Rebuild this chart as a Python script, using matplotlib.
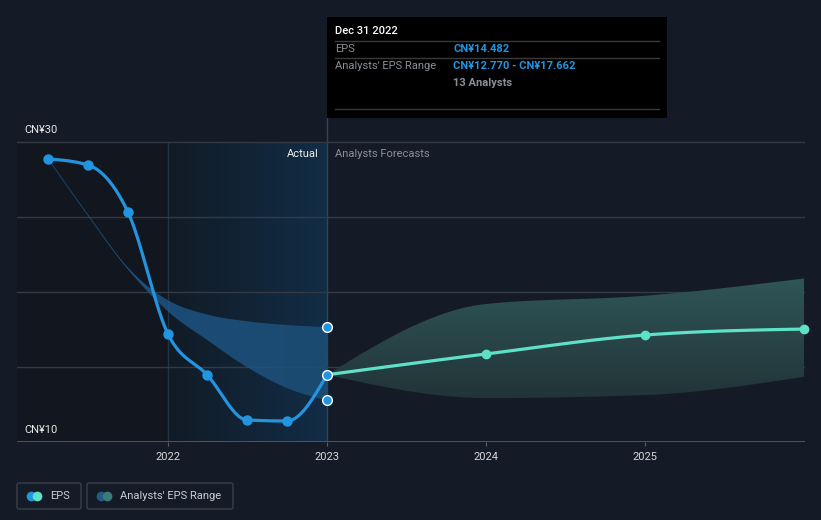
import numpy as np
import pandas as pd
import matplotlib
matplotlib.use("Agg")
import matplotlib.pyplot as plt
from matplotlib.patches import Rectangle, PathPatch, FancyBboxPatch
from matplotlib.lines import Line2D

plt.rcParams['font.family'] = ['Roboto', 'DejaVu Sans']

# ---------------- data ----------------
actual_dates = ["2021-03-31", "2021-06-30", "2021-09-30", "2021-12-31",
                "2022-03-31", "2022-06-30", "2022-09-30", "2022-12-31"]
actual_eps = [28.87, 28.47, 25.33, 17.20, 14.47, 11.47, 11.40, 14.482]
past_range_high = [28.87, 25.15, 21.62, 19.45, 18.5, 18.05, 17.8, 17.662]
past_range_low = [28.87, 25.12, 21.52, 18.7, 16.8, 15.0, 13.6, 12.770]

forecast_dates = ["2022-12-31", "2023-12-31", "2024-12-31", "2025-12-31"]
forecast_eps = [14.482, 15.87, 17.13, 17.53]
forecast_high = [14.482, 19.2, 19.75, 20.9]
forecast_low = [14.482, 12.93, 13.13, 14.35]

y_ticks = [10, 30]
y_tick_labels = ["CN¥10", "CN¥30"]
x_ticks = [2022, 2023, 2024, 2025]
x_tick_labels = ["2022", "2023", "2024", "2025"]

tooltip_date = "Dec 31 2022"
tooltip_eps = "CN¥14.482"
tooltip_range = "CN¥12.770 - CN¥17.662"
tooltip_analysts = "13 Analysts"


def to_year(dates):
    d = pd.to_datetime(dates)
    return np.array([x.year + (x.dayofyear) / (366 if x.is_leap_year else 365) for x in d])


def monotone(x, y, n=40):
    x = np.asarray(x, float); y = np.asarray(y, float)
    h = np.diff(x); s = np.diff(y) / h
    m = np.zeros_like(y)
    for i in range(1, len(y) - 1):
        p = (s[i - 1] * h[i] + s[i] * h[i - 1]) / (h[i - 1] + h[i])
        m[i] = (np.sign(s[i - 1]) + np.sign(s[i])) * min(abs(s[i - 1]), abs(s[i]), 0.5 * abs(p))
    if len(y) > 2:
        m[0] = (3 * s[0] - m[1]) / 2
        m[-1] = (3 * s[-1] - m[-2]) / 2
    else:
        m[0] = m[-1] = s[0]
    xs, ys = [], []
    for i in range(len(h)):
        t = np.linspace(0, 1, n)
        h00 = 2 * t**3 - 3 * t**2 + 1
        h10 = t**3 - 2 * t**2 + t
        h01 = -2 * t**3 + 3 * t**2
        h11 = t**3 - t**2
        xs.append(x[i] + t * h[i])
        ys.append(h00 * y[i] + h10 * h[i] * m[i] + h01 * y[i + 1] + h11 * h[i] * m[i + 1])
    return np.concatenate(xs), np.concatenate(ys)


xa = to_year(actual_dates)
xf = to_year(forecast_dates)

BG = '#151b26'
W, H = 821, 520
fig = plt.figure(figsize=(W / 100, H / 100), dpi=100, facecolor=BG)

L, R, T, B = 17, 805, 118, 442
ax = fig.add_axes([L / W, 1 - B / H, (R - L) / W, (B - T) / H])
ax.set_facecolor(BG)
ymin, ymax = 10, 10 + (B - T) / 15
x0 = 2022 - (168 - L) / 159.0
x1 = 2023 + (R - 327) / 159.0
for sp in ax.spines.values():
    sp.set_visible(False)
ax.set_yticks([])
ax.tick_params(axis='x', length=3, color='#5a5f66', labelcolor='#d8d8d8', labelsize=8, pad=4)
ax.set_xticks(x_ticks)
ax.set_xticklabels(x_tick_labels)

top_frac = (30 - ymin) / (ymax - ymin)
# dark region left of 2022
ax.axvspan(x0, 2022, ymin=0, ymax=top_frac, color='#12171f', zorder=0, lw=0)
# actual region horizontal gradient
grad = np.zeros((2, 256, 4))
c0 = np.array([17, 27, 38]) / 255
c1 = np.array([18, 45, 70]) / 255
for i, t in enumerate(np.linspace(0, 1, 256)):
    grad[:, i, :3] = c0 * (1 - t) + c1 * t
    grad[:, i, 3] = 1
ax.imshow(grad, extent=[2022, 2023, ymin, 30], aspect='auto', origin='lower', zorder=0.5,
          interpolation='bilinear')
ax.axvline(2022, ymin=0, ymax=top_frac, color='#1e3348', lw=1, zorder=0.6)
ax.axvline(2023, color='#2a4660', lw=1, zorder=0.6)

# gridlines
for v in [15, 20, 25, 30]:
    ax.axhline(v, color='#343a44', lw=1, zorder=1)
ax.axhline(10, color='#5a5f66', lw=1.2, zorder=1)


def gradient_band(x, lo, hi, colors, alphas, horizontal=True, z=2, edge=None):
    sx, sl = monotone(x, lo)
    _, sh = monotone(x, hi)
    poly = ax.fill_between(sx, sl, sh, color='none', lw=0)
    path = poly.get_paths()[0]
    patch = PathPatch(path, transform=ax.transData, facecolor='none', edgecolor='none')
    ax.add_patch(patch)
    N = 256
    arr = np.zeros((N, N, 4)) if not horizontal else np.zeros((2, N, 4))
    ca, cb = np.array(colors[0]) / 255, np.array(colors[1]) / 255
    for i, t in enumerate(np.linspace(0, 1, N)):
        c = ca * (1 - t) + cb * t
        a = alphas[0] * (1 - t) + alphas[1] * t
        if horizontal:
            arr[:, i, :3] = c; arr[:, i, 3] = a
        else:
            arr[i, :, :3] = c; arr[i, :, 3] = a
    ext = [sx.min(), sx.max(), min(sl.min(), sh.min()), max(sl.max(), sh.max())]
    im = ax.imshow(arr, extent=ext, aspect='auto', origin='lower', zorder=z, interpolation='bilinear')
    im.set_clip_path(patch)
    if edge is not None:
        # keep the very narrow part of the band visible as a hairline
        narrow = (sh - sl) < 0.4
        ax.plot(sx[narrow], ((sl + sh) / 2)[narrow], color=edge, lw=0.6, alpha=0.7, zorder=z)


gradient_band(xa, past_range_low, past_range_high, [(30, 100, 160), (30, 80, 120)], [0.7, 0.85],
              True, edge='#1f5f93')
gradient_band(xf, forecast_low, forecast_high, [(34, 52, 56), (47, 86, 87)], [1, 1], False)

# lines
sx, sy = monotone(xa, actual_eps)
ax.plot(sx, sy, color='#2394df', lw=2.3, zorder=4, solid_capstyle='round')
ax.plot(xa[:-1], actual_eps[:-1], 'o', color='#2394df', ms=6.5, zorder=5)
fx, fy = monotone(xf, forecast_eps)
ax.plot(fx, fy, color='#5fe0c9', lw=2.3, zorder=4)
ax.plot(xf[1:], forecast_eps[1:], 'o', color='#5fe0c9', ms=6, zorder=5, clip_on=False)
# highlighted points
for v in [past_range_high[-1], actual_eps[-1], past_range_low[-1]]:
    ax.plot([xa[-1]], [v], 'o', color='#2394df', mec='white', mew=1.0, ms=7, zorder=6)

ax.set_xlim(x0, x1)
ax.set_ylim(ymin, ymax)

# y labels
fig.text(24 / W, 1 - 130 / H, y_tick_labels[1], color='#e8e8e8', fontsize=8, va='center', ha='left')
fig.text(24 / W, 1 - 430 / H, y_tick_labels[0], color='#e8e8e8', fontsize=8, va='center', ha='left')

fig.text(319 / W, 1 - 154 / H, "Actual", color='#f0f0f0', fontsize=8, va='center', ha='right')
fig.text(335 / W, 1 - 154 / H, "Analysts Forecasts", color='#8a8f98', fontsize=8, va='center', ha='left')

# tooltip
fig.patches.append(Rectangle((327 / W, 1 - 118 / H), (667 - 327) / W, (118 - 17) / H,
                             transform=fig.transFigure, facecolor='#000000', edgecolor='none', zorder=10))
for yy in [41, 58, 109]:
    fig.add_artist(Line2D([335 / W, 659 / W], [1 - yy / H, 1 - yy / H], color='#3a3a3a', lw=1, zorder=11))
fig.text(335 / W, 1 - 31 / H, tooltip_date, color='white', fontsize=8, fontweight='medium', va='center', zorder=12)
fig.text(335 / W, 1 - 49 / H, "EPS", color='#8a8f98', fontsize=8, va='center', zorder=12)
fig.text(453 / W, 1 - 49 / H, tooltip_eps, color='#2394df', fontsize=8, fontweight='bold', va='center', zorder=12)
fig.text(335 / W, 1 - 66 / H, "Analysts' EPS Range", color='#8a8f98', fontsize=8, va='center', zorder=12)
fig.text(453 / W, 1 - 66 / H, tooltip_range, color='#2394df', fontsize=8, fontweight='bold', va='center', zorder=12)
fig.text(453 / W, 1 - 83 / H, tooltip_analysts, color='#8a8f98', fontsize=8, fontweight='bold', va='center', zorder=12)

# legend
def legend_box(xl, xr, label, c1, c2):
    fig.patches.append(FancyBboxPatch((xl / W, 1 - 509 / H), (xr - xl) / W, 26 / H,
                                      boxstyle='round,pad=0,rounding_size=0.003',
                                      transform=fig.transFigure, facecolor='none',
                                      edgecolor='#3a3f48', lw=1))
    fig.add_artist(Line2D([(xl + 14) / W], [1 - 496 / H], marker='o', ms=7, color=c1, mec='none'))
    fig.add_artist(Line2D([(xl + 20) / W], [1 - 496 / H], marker='o', ms=7, color=c2, mec='none'))
    fig.text((xl + 33) / W, 1 - 496 / H, label, color='#c8ccd2', fontsize=8, va='center')

legend_box(17, 81, "EPS", '#2394df', '#5fe0c9')
legend_box(87, 233, "Analysts' EPS Range", '#245a86', '#3b7c76')

fig.savefig('out.png', dpi=100, facecolor=BG)
